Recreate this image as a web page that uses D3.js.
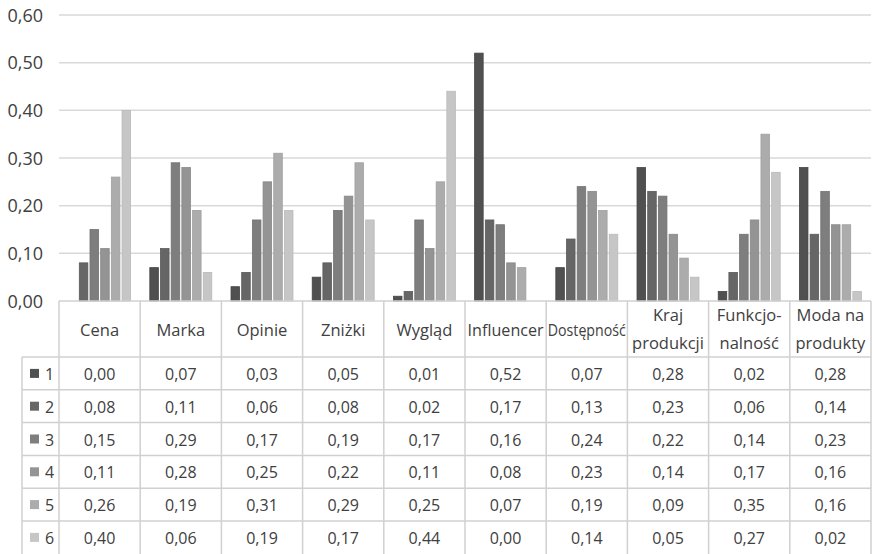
<!DOCTYPE html>
<html>
<head>
<meta charset="utf-8">
<script src="https://cdn.jsdelivr.net/npm/d3@7"></script>
<style>
  html, body { margin: 0; padding: 0; background: #fff; }
  svg text { font-family: "Open Sans", Lato, sans-serif; fill: #404040; }
</style>
</head>
<body>
<svg id="chart" width="872" height="554"></svg>
<script>
const categories = ["Cena", "Marka", "Opinie", "Zniżki", "Wygląd", "Influencer", "Dostępność", "Kraj\nprodukcji", "Funkcjo-\nnalność", "Moda na\nprodukty"];
const seriesNames = ["1", "2", "3", "4", "5", "6"];
const s1 = [0.00, 0.07, 0.03, 0.05, 0.01, 0.52, 0.07, 0.28, 0.02, 0.28];
const s2 = [0.08, 0.11, 0.06, 0.08, 0.02, 0.17, 0.13, 0.23, 0.06, 0.14];
const s3 = [0.15, 0.29, 0.17, 0.19, 0.17, 0.16, 0.24, 0.22, 0.14, 0.23];
const s4 = [0.11, 0.28, 0.25, 0.22, 0.11, 0.08, 0.23, 0.14, 0.17, 0.16];
const s5 = [0.26, 0.19, 0.31, 0.29, 0.25, 0.07, 0.19, 0.09, 0.35, 0.16];
const s6 = [0.40, 0.06, 0.19, 0.17, 0.44, 0.00, 0.14, 0.05, 0.27, 0.02];
const yTicks = [0, 0.1, 0.2, 0.3, 0.4, 0.5, 0.6];

const series = [s1, s2, s3, s4, s5, s6];
const colors = ["#505050", "#666666", "#7e7e7e", "#949494", "#acacac", "#c6c6c6"];
const strokes = ["#444444", "#5a5a5a", "#727272", "#888888", "#a0a0a0", "#bababa"];
const fmt = v => d3.format(".2f")(v).replace(".", ",");

const svg = d3.select("#chart");
const plotL = 59, plotR = 871, yTop = 15, yBase = 301;
const legL = 22, headerH = 56, rowH = 32.8;

const x0 = d3.scaleBand().domain(categories).range([plotL, plotR]).padding(0);
const x1 = d3.scaleBand().domain(seriesNames).range([0, x0.bandwidth()]).paddingInner(0.2).paddingOuter(0.9);
const y = d3.scaleLinear().domain([0, 0.6]).range([yBase, yTop]);

// gridlines
svg.append("g").selectAll("line").data(yTicks.filter(t => t > 0)).join("line")
  .attr("x1", plotL).attr("x2", plotR)
  .attr("y1", d => y(d)).attr("y2", d => y(d))
  .attr("stroke", "#d9d9d9").attr("stroke-width", 1.5);

// y axis labels
const yAxis = d3.axisLeft(y).tickValues(yTicks).tickFormat(fmt).tickSize(0).tickPadding(0);
const ya = svg.append("g").attr("transform", "translate(43,0)").call(yAxis);
ya.select(".domain").remove();
ya.selectAll("text").style("font-size", "18px").attr("fill", "#404040").attr("font-family", null).attr("dy", "0.35em");

// bars
const groups = svg.append("g").selectAll("g").data(categories).join("g")
  .attr("transform", d => `translate(${x0(d)},0)`);
groups.selectAll("rect").data((c, ci) => series.map((s, si) => ({ si, v: s[ci] }))).join("rect")
  .filter(d => d.v > 0)
  .attr("x", d => x1(seriesNames[d.si]))
  .attr("width", x1.bandwidth())
  .attr("y", d => y(d.v))
  .attr("height", d => yBase - y(d.v))
  .attr("fill", d => colors[d.si])
  .attr("stroke", d => strokes[d.si])
  .attr("stroke-width", 0.8);

// table
const tbl = svg.append("g");
const rowTop = i => yBase + headerH + i * rowH;
const lineColor = "#d0d0d0";
tbl.append("line").attr("x1", plotL).attr("x2", plotR).attr("y1", yBase).attr("y2", yBase).attr("stroke", lineColor).attr("stroke-width", 1.5);
for (let i = 0; i < seriesNames.length; i++) {
  tbl.append("line").attr("x1", legL).attr("x2", plotR).attr("y1", rowTop(i)).attr("y2", rowTop(i)).attr("stroke", lineColor).attr("stroke-width", 1.5);
}
const bounds = categories.map(c => x0(c)).concat([plotR]);
bounds.forEach(bx => {
  tbl.append("line").attr("x1", bx).attr("x2", bx).attr("y1", yBase).attr("y2", 554).attr("stroke", lineColor).attr("stroke-width", 1.5);
});
tbl.append("line").attr("x1", legL).attr("x2", legL).attr("y1", rowTop(0)).attr("y2", 554).attr("stroke", lineColor).attr("stroke-width", 1.5);

// header labels
categories.forEach(c => {
  const lines = c.split("\n");
  const cx = x0(c) + x0.bandwidth() / 2;
  const t = tbl.append("text").attr("text-anchor", "middle").style("font-size", "16.5px");
  if (lines.length === 1) {
    t.append("tspan").attr("x", cx).attr("y", yBase + 35).text(lines[0]);
  } else {
    t.append("tspan").attr("x", cx).attr("y", yBase + 20).text(lines[0]);
    t.append("tspan").attr("x", cx).attr("y", yBase + 48).text(lines[1]);
  }
  if (c === "Dostępność") t.attr("textLength", 78).attr("lengthAdjust", "spacingAndGlyphs");
  if (c === "Influencer") t.attr("textLength", 76).attr("lengthAdjust", "spacingAndGlyphs");
});

// rows
seriesNames.forEach((s, i) => {
  const cy = rowTop(i) + rowH / 2;
  tbl.append("rect").attr("x", 30).attr("y", cy - 4.5).attr("width", 9).attr("height", 9).attr("fill", colors[i]);
  tbl.append("text").attr("x", 45).attr("y", cy + 6.5).style("font-size", "16px").text(s);
  categories.forEach((c, ci) => {
    tbl.append("text").attr("x", x0(c) + x0.bandwidth() / 2).attr("y", cy + 6.5)
      .attr("text-anchor", "middle").style("font-size", "16px").text(fmt(series[i][ci]));
  });
});
</script>
</body>
</html>
